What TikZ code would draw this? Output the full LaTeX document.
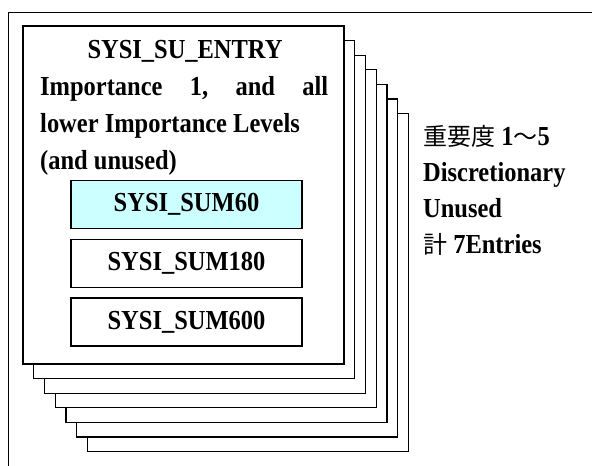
\documentclass[tikz,border=0pt]{standalone}
\usepackage{fontspec}
\setmainfont{Liberation Serif}[FakeStretch=0.89]
\newfontfamily\cjk{Noto Sans CJK JP}
\newcommand\jp[1]{{\cjk\mdseries\fontsize{24}{30}\selectfont #1}}
\usepackage{tikz}

\begin{document}
\begin{tikzpicture}[x=1pt,y=-1pt]
\tikzstyle{page}=[draw,fill=white,line width=1.2pt]
\tikzstyle{txt}=[inner sep=0pt,anchor=base west,font=\bfseries\fontsize{27.5}{30}\selectfont]
\tikzstyle{sumbox}=[draw,line width=1.2pt,minimum width=231pt,minimum height=48pt,inner sep=0pt,font=\bfseries\fontsize{27.5}{30}\selectfont]

\useasboundingbox (0,0) rectangle (592,466);

% OUTER FRAME
\draw [line width=1pt] (8,466) -- (8,12) -- (592,12);

% STACK OF PAGES (back to front)
\foreach \k in {6,5,...,0}{
  \draw [page] ({23+10.75*\k},{26+14.6*\k}) rectangle +(321,338);
}

% FRONT PAGE TEXT
\node [txt,anchor=base] (entry) at (185,58) {SYSI\_SU\_ENTRY};
\node [txt] (imp) at (40,95) {\makebox[288pt]{Importance\hfill 1,\hfill and\hfill all}};
\node [txt] (lower) at (40,132) {lower Importance Levels};
\node [txt] (unused) at (40,169) {(and unused)};

% SUM BOXES
\node [sumbox,fill={rgb,255:red,204;green,255;blue,255}] (sum60) at (186.5,204.5) {SYSI\_SUM60};
\node [sumbox] (sum180) at (186.5,263.5) {SYSI\_SUM180};
\node [sumbox] (sum600) at (186.5,322) {SYSI\_SUM600};

% NOTE ON THE RIGHT
\node [txt] (lvl) at (423,145) {\jp{重要度} 1\jp{～}5};
\node [txt] (disc) at (423,181) {Discretionary};
\node [txt] (unu) at (423,217) {Unused};
\node [txt] (total) at (423,253) {\jp{計} 7Entries};

\end{tikzpicture}
\end{document}
